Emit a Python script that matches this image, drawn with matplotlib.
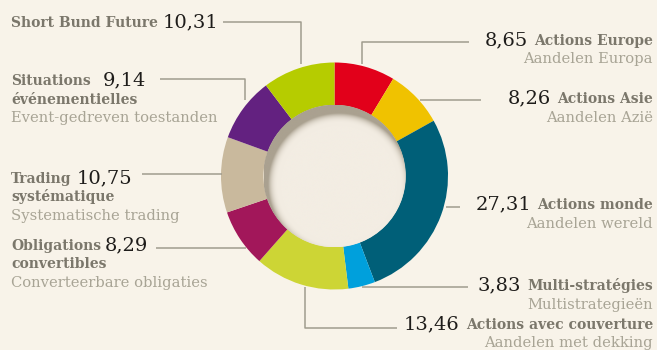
import matplotlib
matplotlib.use("Agg")
import matplotlib.pyplot as plt
import numpy as np
from matplotlib.patches import Circle

# Répartition des actifs (%), dans le sens horaire à partir de midi
labels_fr = ["Actions Europe", "Actions Asie", "Actions monde", "Multi-stratégies",
             "Actions avec couverture", "Obligations\nconvertibles",
             "Trading\nsystématique", "Situations\névénementielles", "Short Bund Future"]
labels_nl = ["Aandelen Europa", "Aandelen Azië", "Aandelen wereld", "Multistrategieën",
             "Aandelen met dekking", "Converteerbare obligaties",
             "Systematische trading", "Event-gedreven toestanden", ""]
values = [8.65, 8.26, 27.31, 3.83, 13.46, 8.29, 10.75, 9.14, 10.31]
colors = ["#e2001a", "#f0c200", "#005f78", "#00a0dc", "#cdd535",
          "#a2175a", "#c9b99d", "#632180", "#b6cc00"]
sides = ["right", "right", "right", "right", "right", "left", "left", "left", "left"]

BG = "#f8f3e9"
C_BOLD = "#7b776b"
C_NL = "#a8a495"
C_NUM = "#1e1c1a"
C_LINE = "#a09c8e"

# position du libellé : (x, ligne de base de la 1re ligne)
text_pos = [(653, 45), (653, 103), (653, 209), (653, 290), (653, 329),
            (11, 250), (11, 183), (11, 85), (11, 27)]
# traits de rappel
leaders = [
    [(469, 42), (362, 42), (362, 64)],
    [(481, 100), (420, 100)],
    [(460, 207), (446, 207)],
    [(468, 287), (362, 287)],
    [(397, 328), (305, 328), (305, 287)],
    [(156, 248), (246, 248)],
    [(142, 174), (222, 174)],
    [(160, 79), (245, 79), (245, 100)],
    [(223, 22), (301, 22), (301, 64)],
]
num_gap = [None, None, None, None, None, 4, 5, 12, 5]

cx, cy, R, r_in = 334.5, 176, 113.5, 71

fig = plt.figure(figsize=(6.57, 3.5), dpi=100, facecolor=BG)
ax = fig.add_axes([0, 0, 1, 1])
ax.set_facecolor(BG)

# anneau (axe y inversé : sens trigonométrique = sens horaire à l'écran)
ax.pie(values, colors=colors, startangle=-90, counterclock=True,
       center=(cx, cy), radius=R,
       wedgeprops=dict(width=R - r_in, linewidth=0, antialiased=True))

# disque central avec ombre portée intérieure (lumière en haut à gauche)
n = 400
xs = np.linspace(cx - r_in, cx + r_in, n)
ys = np.linspace(cy - r_in, cy + r_in, n)
X, Y = np.meshgrid(xs, ys)
d = np.hypot(X - (cx + 4), Y - (cy + 8))
t = (r_in - d) / 12.0
shade = np.clip(1 - t, 0, 1) ** 3
base = np.array(matplotlib.colors.to_rgb("#f3ede3"))
dark = np.array(matplotlib.colors.to_rgb("#aaa190"))
img = base[None, None, :] * (1 - shade[..., None]) + dark[None, None, :] * shade[..., None]
im = ax.imshow(img, extent=(cx - r_in, cx + r_in, cy + r_in, cy - r_in),
               origin="upper", interpolation="bilinear", zorder=3)
clip = Circle((cx, cy), r_in + 0.3, transform=ax.transData, facecolor="none", edgecolor="none")
ax.add_patch(clip)
im.set_clip_path(clip)

for pts in leaders:
    px, py = zip(*pts)
    ax.plot(px, py, color=C_LINE, lw=1.1, solid_capstyle="butt", zorder=2)

ax.set_xlim(0, 657)
ax.set_ylim(350, 0)
ax.set_aspect("equal")
ax.axis("off")

serif = "DejaVu Serif"
fs_bold, fs_reg, fs_num, lh = 10, 10.6, 14, 18.5
renderer = fig.canvas.get_renderer()
inv = ax.transData.inverted()

for lab, nl, v, side, (x, y), gap in zip(labels_fr, labels_nl, values, sides, text_pos, num_gap):
    num = f"{v:.2f}".replace(".", ",")
    lines = lab.split("\n")
    if side == "right":
        t1 = ax.text(x, y, lines[0], ha="right", va="baseline", family=serif,
                     weight="bold", size=fs_bold, color=C_BOLD)
        bb = t1.get_window_extent(renderer)
        left = inv.transform((bb.x0, 0))[0]
        ax.text(left - 6, y, num, ha="right", va="baseline", family=serif,
                size=fs_num, color=C_NUM)
        ax.text(x, y + lh, nl, ha="right", va="baseline", family=serif,
                size=fs_reg, color=C_NL)
    else:
        t1 = ax.text(x, y, lines[0], ha="left", va="baseline", family=serif,
                     weight="bold", size=fs_bold, color=C_BOLD)
        bb = t1.get_window_extent(renderer)
        right = inv.transform((bb.x1, 0))[0]
        ax.text(right + gap, y, num, ha="left", va="baseline", family=serif,
                size=fs_num, color=C_NUM)
        k = 1
        for extra in lines[1:]:
            ax.text(x, y + lh * k, extra, ha="left", va="baseline", family=serif,
                    weight="bold", size=fs_bold, color=C_BOLD)
            k += 1
        if nl:
            ax.text(x, y + lh * k, nl, ha="left", va="baseline", family=serif,
                    size=fs_reg, color=C_NL)

fig.savefig("out.png", dpi=100, facecolor=BG)
